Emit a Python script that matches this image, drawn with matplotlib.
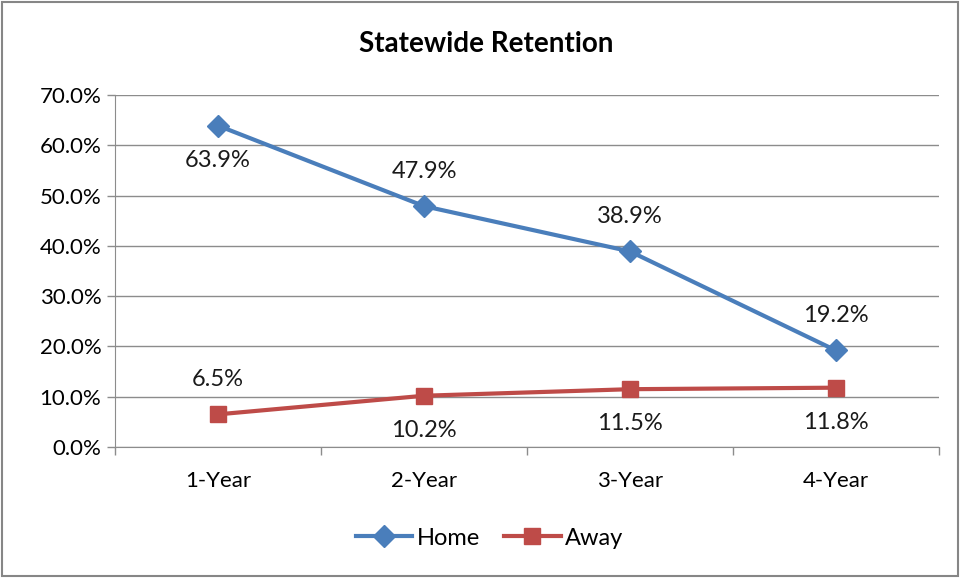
import matplotlib
matplotlib.use('Agg')
import matplotlib.pyplot as plt
from matplotlib.patches import Rectangle
import numpy as np

# data
years = ['1-Year', '2-Year', '3-Year', '4-Year']
home = [63.9, 47.9, 38.9, 19.2]
away = [6.5, 10.2, 11.5, 11.8]
# label placement: +1 above point, -1 below point
home_pos = [-1, 1, 1, 1]
away_pos = [1, -1, -1, -1]

blue = '#4a7ebb'
red = '#be4b48'
grid_col = '#8c8c8c'

plt.rc('font', family=['Lato', 'DejaVu Sans'], size=15)

fig = plt.figure(figsize=(9.6, 5.78), dpi=100)
ax = fig.add_axes([0.120, 0.2266, 0.858, 0.609])

x = np.arange(len(years))
ax.plot(x, home, color=blue, lw=3, marker='D', ms=11, label='Home', zorder=3)
ax.plot(x, away, color=red, lw=3, marker='s', ms=12, label='Away', zorder=3)

for xi, v, p in zip(x, home, home_pos):
    ax.annotate('%.1f%%' % v, (xi, v), xytext=(0, 25 * p), textcoords='offset points',
                ha='center', va='center', fontsize=17, color='#1a1a1a')
for xi, v, p in zip(x, away, away_pos):
    ax.annotate('%.1f%%' % v, (xi, v), xytext=(0, 25 * p), textcoords='offset points',
                ha='center', va='center', fontsize=17, color='#1a1a1a')

ax.set_xlim(-0.5, 3.5)
ax.set_ylim(0, 70)
ax.set_yticks(np.arange(0, 71, 10))
ax.set_yticklabels(['%.1f%%' % t for t in np.arange(0, 71, 10)], fontsize=16)
ax.set_xticks(x)
ax.set_xticklabels(years, fontsize=16)
ax.set_xticks(np.arange(-0.5, 3.6, 1), minor=True)
ax.tick_params(axis='x', which='major', length=0, pad=17)
ax.tick_params(axis='x', which='minor', length=6, color=grid_col, width=1)
ax.tick_params(axis='y', length=6, color=grid_col, width=1, pad=4)
ax.grid(axis='y', color=grid_col, lw=1)
ax.set_axisbelow(True)
for s in ['top', 'right']:
    ax.spines[s].set_visible(False)
for s in ['left', 'bottom']:
    ax.spines[s].set_color(grid_col)

fig.text(0.506, 0.924, 'Statewide Retention', ha='center', va='center',
         fontsize=20, fontweight='bold')

fig.legend(loc='center', bbox_to_anchor=(0.51, 0.069), ncol=2, frameon=False,
           handlelength=2.4, columnspacing=1.0, handletextpad=0.2, fontsize=17)

fig.patches.append(Rectangle((0.002, 0.003), 0.996, 0.994, transform=fig.transFigure,
                             fill=False, edgecolor='#868686', lw=1.5))

plt.savefig('out.png', dpi=100)
